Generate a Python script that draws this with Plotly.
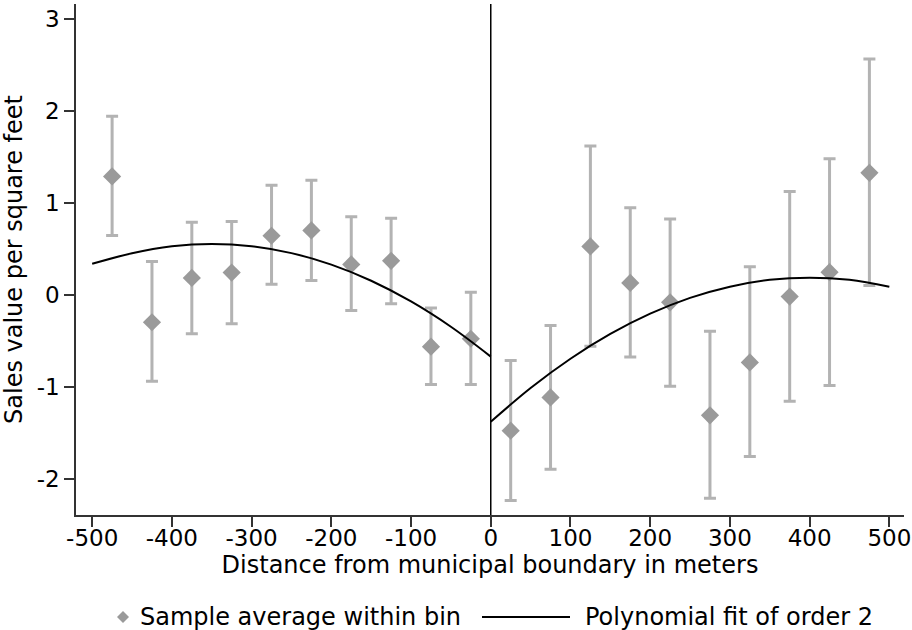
import plotly.graph_objects as go

# Binned sample averages (distance bin centres, metres)
bin_x = [-475, -425, -375, -325, -275, -225, -175, -125, -75, -25,
         25, 75, 125, 175, 225, 275, 325, 375, 425, 475]
bin_mean = [1.29, -0.295, 0.187, 0.245, 0.645, 0.703, 0.334, 0.373, -0.56, -0.474,
            -1.473, -1.112, 0.529, 0.132, -0.078, -1.306, -0.731, -0.016, 0.249, 1.329]
ci_upper = [1.943, 0.365, 0.793, 0.80, 1.193, 1.248, 0.851, 0.836, -0.14, 0.031,
            -0.711, -0.33, 1.621, 0.948, 0.828, -0.393, 0.307, 1.127, 1.481, 2.565]
ci_lower = [0.649, -0.937, -0.42, -0.311, 0.117, 0.159, -0.167, -0.093, -0.972, -0.972,
            -2.231, -1.893, -0.556, -0.672, -0.991, -2.208, -1.753, -1.154, -0.983, 0.105]

# Polynomial fit curves
fit_left_x = [-500, -450, -400, -350, -300, -250, -200, -150, -100, -50, 0]
fit_left_y = [0.34, 0.456, 0.531, 0.556, 0.531, 0.456, 0.331, 0.156, -0.069, -0.344, -0.668]
fit_right_x = [0, 50, 100, 150, 200, 250, 300, 350, 400, 450, 500]
fit_right_y = [-1.376, -1.009, -0.691, -0.422, -0.202, -0.030, 0.092, 0.166, 0.19, 0.166, 0.092]

x_ticks = [-500, -400, -300, -200, -100, 0, 100, 200, 300, 400, 500]
x_ticktext = ["-500", "-400", "-300", "-200", "-100", "0", "100", "200", "300", "400", "500"]
y_ticks = [-2, -1, 0, 1, 2, 3]
y_ticktext = ["-2", "-1", "0", "1", "2", "3"]

legend_labels = ["Sample average within bin", "Polynomial fit of order 2"]

err_plus = [u - m for u, m in zip(ci_upper, bin_mean)]
err_minus = [m - l for m, l in zip(bin_mean, ci_lower)]

FONT = "DejaVu Sans"
MARKER_COLOR = "#9a9a9a"
AXIS_COLOR = "#333333"

# plot area in pixels
L, R, T, B = 76, 904, 4, 515

fig = go.Figure()
fig.add_trace(go.Scatter(
    x=bin_x, y=bin_mean, mode="markers",
    name=legend_labels[0], showlegend=False,
    marker=dict(symbol="diamond", size=14, color=MARKER_COLOR, line=dict(width=0)),
    error_y=dict(type="data", symmetric=False, array=err_plus, arrayminus=err_minus,
                 color="#b3b3b3", thickness=3, width=6),
))
fig.add_trace(go.Scatter(
    x=fit_left_x, y=fit_left_y, mode="lines", line_shape="spline",
    name=legend_labels[1], showlegend=False, line=dict(color="black", width=2),
))
fig.add_trace(go.Scatter(
    x=fit_right_x, y=fit_right_y, mode="lines", line_shape="spline",
    showlegend=False, line=dict(color="black", width=2),
))

# boundary line
fig.add_shape(type="line", xref="x", yref="paper", x0=0, x1=0, y0=0, y1=1,
              line=dict(color="black", width=1.5))

# --- custom legend ---
def px_x(p):
    return (p - L) / float(R - L)

def px_y(p):
    return (B - p) / float(B - T)

leg_y = px_y(617)
fig.add_shape(type="path", xref="paper", yref="paper",
              xsizemode="pixel", ysizemode="pixel",
              xanchor=px_x(123), yanchor=leg_y,
              path="M 0 6 L 6 0 L 0 -6 L -6 0 Z",
              fillcolor=MARKER_COLOR, line=dict(width=0))
fig.add_annotation(xref="paper", yref="paper", x=px_x(138), y=leg_y,
                   xanchor="left", yanchor="middle", showarrow=False,
                   text=legend_labels[0], font=dict(size=24, family=FONT))
fig.add_shape(type="line", xref="paper", yref="paper",
              x0=px_x(482), x1=px_x(570), y0=leg_y, y1=leg_y,
              line=dict(color="black", width=2))
fig.add_annotation(xref="paper", yref="paper", x=px_x(583), y=leg_y,
                   xanchor="left", yanchor="middle", showarrow=False,
                   text=legend_labels[1], font=dict(size=24, family=FONT))

fig.update_layout(
    width=912, height=630,
    margin=dict(l=L, r=912 - R, t=T, b=630 - B, autoexpand=False),
    paper_bgcolor="white", plot_bgcolor="white",
    font=dict(family=FONT, size=23, color="black"),
    showlegend=False,
    xaxis=dict(range=[-520.3, 518.4], tickvals=x_ticks, ticktext=x_ticktext,
               showgrid=False, zeroline=False, automargin=False,
               showline=True, linecolor=AXIS_COLOR, linewidth=1.5,
               ticks="outside", ticklen=10, tickcolor=AXIS_COLOR, tickwidth=1.5,
               tickfont=dict(size=23), ticklabelstandoff=-8,
               title=dict(text="Distance from municipal boundary in meters", standoff=0,
                          font=dict(size=24))),
    yaxis=dict(range=[-2.389, 3.163], tickvals=y_ticks, ticktext=y_ticktext,
               showgrid=False, zeroline=False, automargin=False,
               showline=True, linecolor=AXIS_COLOR, linewidth=1.5,
               ticks="outside", ticklen=10, tickcolor=AXIS_COLOR, tickwidth=1.5,
               tickfont=dict(size=23), ticklabelstandoff=0,
               title=dict(text="Sales value per square feet", standoff=10,
                          font=dict(size=24))),
)

fig.write_html("out.html")
